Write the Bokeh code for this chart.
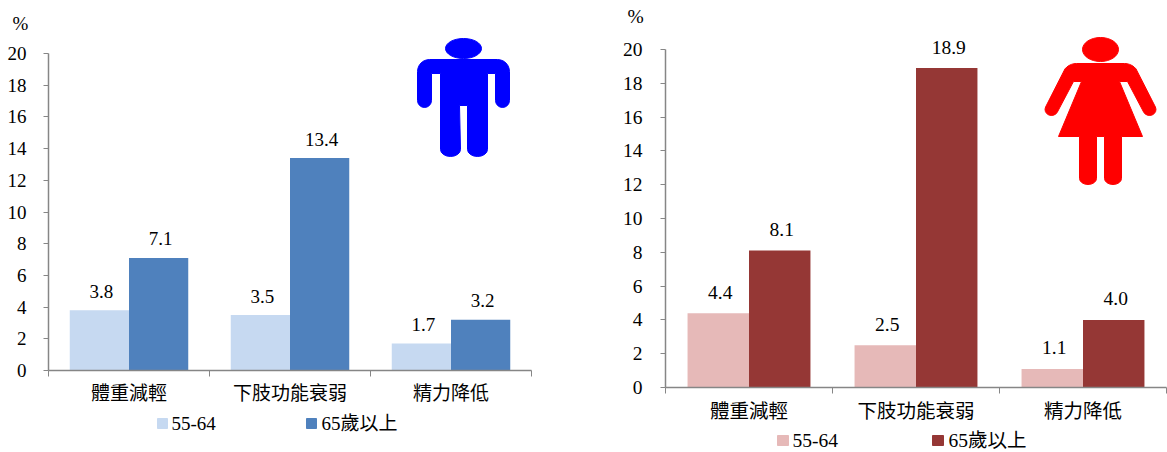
import math
from bokeh.embed import file_html
from bokeh.layouts import row
from bokeh.models import ColumnDataSource, FixedTicker, Label, PolyAnnotation, Range1d
from bokeh.plotting import figure
from bokeh.resources import INLINE

categories = ["體重減輕", "下肢功能衰弱", "精力降低"]
series_names = ["55-64", "65歲以上"]
men_55_64 = [3.8, 3.5, 1.7]
men_65_plus = [7.1, 13.4, 3.2]
women_55_64 = [4.4, 2.5, 1.1]
women_65_plus = [8.1, 18.9, 4.0]
y_ticks = list(range(0, 21, 2))

FONT = "'Liberation Serif', 'Noto Sans CJK TC'"
AXIS = "#868686"
BAR_W = 0.368


def arc(cx, cy, rx, ry, a0, a1, n=10):
    return [(cx + rx * math.cos(math.radians(a0 + (a1 - a0) * i / n)),
             cy + ry * math.sin(math.radians(a0 + (a1 - a0) * i / n))) for i in range(n + 1)]


def icon(p, pts, color, ox, oy):
    p.add_layout(PolyAnnotation(xs=[a - ox for a, _ in pts], ys=[b - oy for _, b in pts],
                                xs_units="canvas", ys_units="canvas",
                                fill_color=color, fill_alpha=1, line_color=color, line_alpha=1, line_width=1,
                                level="overlay"))


def chart(width, height, left, right, top, bottom, a, b, c1, c2, font_px, standoff_y, standoff_x,
          legend_spec, pct_xy, label_dx, label_dy):
    # The frame fills the whole figure so that nothing outside the 0-20 / 3-category area gets clipped.
    plot_w = width - left - right
    plot_h = height - top - bottom
    n = len(categories)
    top_val = max(y_ticks)
    p = figure(width=width, height=height, output_backend="svg", toolbar_location=None,
               x_range=Range1d(-left * n / plot_w, n + right * n / plot_w),
               y_range=Range1d(-bottom * top_val / plot_h, top_val + top * top_val / plot_h),
               min_border=0, min_border_left=0, min_border_right=0, min_border_top=0, min_border_bottom=0)
    p.outline_line_color = None
    p.grid.visible = False
    fs = f"{font_px}px"
    xs = [i + 0.5 for i in range(n)]
    s1 = ColumnDataSource(dict(x=[v - BAR_W / 2 for v in xs], top=a, t=[f"{v:.1f}" for v in a]))
    s2 = ColumnDataSource(dict(x=[v + BAR_W / 2 for v in xs], top=b, t=[f"{v:.1f}" for v in b]))
    p.vbar(x="x", top="top", bottom=0, width=BAR_W, source=s1, fill_color=c1, line_color=None)
    p.vbar(x="x", top="top", bottom=0, width=BAR_W, source=s2, fill_color=c2, line_color=None)
    for s in (s1, s2):
        p.text(x="x", y="top", text="t", source=s, text_align="center", text_baseline="middle",
               x_offset=label_dx, y_offset=label_dy, text_font_size=fs, text_font={"value": FONT},
               text_color="#000000")

    xa = p.xaxis[0]
    xa.fixed_location = 0
    xa.bounds = (0, n)
    xa.ticker = FixedTicker(ticks=xs, minor_ticks=list(range(n + 1)))
    xa.major_label_overrides = {x: c for x, c in zip(xs, categories)}
    xa.major_tick_in = 0
    xa.major_tick_out = 0
    xa.minor_tick_in = 0
    xa.minor_tick_out = 6
    xa.minor_tick_line_color = AXIS
    xa.axis_line_color = AXIS
    xa.axis_line_width = 1.5
    xa.major_label_standoff = standoff_x
    xa.major_label_text_font = FONT
    xa.major_label_text_font_size = fs
    xa.major_label_text_color = "#000000"

    ya = p.yaxis[0]
    ya.fixed_location = 0
    ya.bounds = (0, top_val)
    ya.ticker = FixedTicker(ticks=y_ticks)
    ya.major_tick_in = 0
    ya.major_tick_out = 5
    ya.minor_tick_in = 0
    ya.minor_tick_out = 0
    ya.major_tick_line_color = AXIS
    ya.axis_line_color = AXIS
    ya.axis_line_width = 1.5
    ya.major_label_standoff = standoff_y
    ya.major_label_text_font = FONT
    ya.major_label_text_font_size = fs
    ya.major_label_text_color = "#000000"

    # Legend: swatch + real text, placed in canvas pixels.
    cy = legend_spec["y"]
    for name, color, x0, size, tx in zip(series_names, (c1, c2), legend_spec["x"], legend_spec["size"], legend_spec["tx"]):
        icon(p, [(x0, cy - 5), (x0 + size, cy - 5), (x0 + size, cy + 5), (x0, cy + 5)], color, 0, 0)
        p.add_layout(Label(x=tx, y=cy, x_units="canvas", y_units="canvas", text=name,
                           text_font=FONT, text_font_size=fs, text_color="#000000",
                           text_align="left", text_baseline="middle"))
    p.add_layout(Label(x=pct_xy[0], y=pct_xy[1], x_units="canvas", y_units="canvas", text="%",
                       text_font=FONT, text_font_size=fs, text_color="#000000",
                       text_align="center", text_baseline="middle"))
    return p


left = chart(600, 452, 48, 69, 53, 82, men_55_64, men_65_plus, "#C6D9F1", "#4F81BD", 19, 17, 6,
             dict(y=423, x=(157, 306), size=(10, 10), tx=(171, 321)), (20, 23), 2, -19)
right = chart(567, 452, 65, 1, 49, 65, women_55_64, women_65_plus, "#E6B9B8", "#953735", 19.5, 18, 7,
              dict(y=440, x=(177, 332), size=(11, 11), tx=(192, 348)), (35, 16), 2, -21)

man = arc(429, 71, 12, 12, 180, 270, 6)
man += [(497, 59)] + arc(497, 71, 12, 12, 270, 360, 6)
man += arc(502, 100, 7, 7, 0, 180, 8) + [(495, 73), (487, 73)]
man += arc(477, 149, 10, 7, 0, 180, 8) + [(467, 105), (459, 105)]
man += arc(450, 149, 10, 7, 0, 180, 8) + [(440, 73), (431, 73)]
man += arc(424, 100, 7, 7, 0, 180, 8)
icon(left, man, "#0000FF", 0, 0)
icon(left, arc(463, 48, 18, 10, 0, 360, 32), "#0000FF", 0, 0)

woman = arc(1076, 78, 15, 15, 220, 270, 5) + arc(1124, 78, 15, 15, 270, 320, 5)
woman += arc(1149, 109, 6.5, 6, -25, 155, 8)
woman += [(1127, 81), (1119, 81), (1142, 136), (1121, 136)]
woman += arc(1112.5, 178, 8.5, 6, 0, 180, 8) + [(1104, 136), (1096, 136)]
woman += arc(1087.5, 178, 8.5, 6, 0, 180, 8) + [(1079, 136), (1058, 136), (1081, 81), (1073, 81)]
woman += arc(1051, 109, 6.5, 6, 25, 205, 8)
icon(right, woman, "#FF0000", 600, 0)
icon(right, arc(1100, 49, 18, 12, 0, 360, 32), "#FF0000", 600, 0)

layout = row(left, right, spacing=0)
open("out.html", "w").write(file_html(layout, INLINE))
